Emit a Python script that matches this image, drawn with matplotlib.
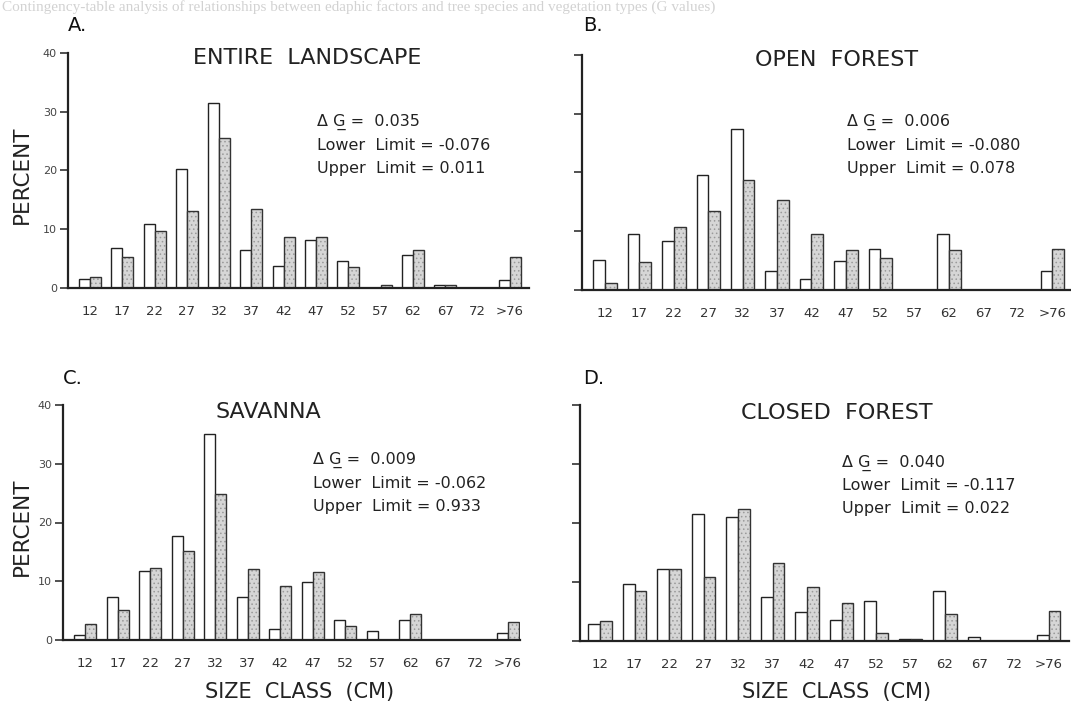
import numpy as np
import matplotlib.pyplot as plt

W, H = 1071, 705

size_labels = ["12", "17", "22", "27", "32", "37", "42", "47", "52", "57", "62", "67", "72", ">76"]

# white bars / stippled bars, percent per size class
entire_white = [1.5, 6.8, 10.9, 20.2, 31.5, 6.4, 3.8, 8.1, 4.6, 0.0, 5.6, 0.45, 0.0, 1.4]
entire_gray = [1.9, 5.3, 9.7, 13.1, 25.5, 13.5, 8.6, 8.75, 3.5, 0.45, 6.5, 0.45, 0.0, 5.2]
open_white = [5.1, 9.5, 8.4, 19.6, 27.4, 3.2, 1.9, 5.0, 6.9, 0.0, 9.5, 0.0, 0.0, 3.2]
open_gray = [1.2, 4.8, 10.7, 13.4, 18.75, 15.3, 9.5, 6.8, 5.5, 0.0, 6.8, 0.0, 0.0, 7.0]
savanna_white = [0.85, 7.3, 11.8, 17.7, 35.1, 7.4, 1.8, 9.8, 3.4, 1.5, 3.4, 0.0, 0.0, 1.25]
savanna_gray = [2.7, 5.1, 12.2, 15.2, 24.9, 12.1, 9.2, 11.6, 2.4, 0.0, 4.5, 0.0, 0.0, 3.1]
closed_white = [2.8, 9.6, 12.2, 21.6, 21.1, 7.5, 4.9, 3.5, 6.8, 0.3, 8.5, 0.7, 0.0, 1.0]
closed_gray = [3.4, 8.4, 12.2, 10.9, 22.4, 13.2, 9.2, 6.5, 1.4, 0.3, 4.5, 0.0, 0.0, 5.1]

panels = [
    # letter, title, white, gray, stats, pixel box (left, baseline, top, right), xlim left, px per class, y labels
    ("A.", "ENTIRE  LANDSCAPE", entire_white, entire_gray, ("0.035", "-0.076", "0.011"),
     (68, 288, 53, 529), -0.68, 32.3, True),
    ("B.", "OPEN  FOREST", open_white, open_gray, ("0.006", "-0.080", "0.078"),
     (582, 290, 55, 1071), -0.67, 34.4, False),
    ("C.", "SAVANNA", savanna_white, savanna_gray, ("0.009", "-0.062", "0.933"),
     (63, 640, 405, 520), -0.68, 32.5, True),
    ("D.", "CLOSED  FOREST", closed_white, closed_gray, ("0.040", "-0.117", "0.022"),
     (580, 641, 405, 1069), -0.58, 34.5, False),
]

# where the text sits, in pixels from the top-left (letters: baseline)
letter_pos = [(68, 31), (583, 31), (63, 384), (583, 384)]
title_pos = [(307, 58), (837, 60), (268, 412), (837, 413)]
stats_pos = [(317, 122), (847, 122), (313, 460), (842, 463)]

plt.rcParams["font.family"] = ["DejaVu Sans"]
plt.rcParams["hatch.linewidth"] = 0.6
fig = plt.figure(figsize=(W / 100, H / 100), dpi=100)
fig.patch.set_facecolor("white")

# faint bleed-through line at the top of the scanned page
fig.text(2 / W, 1 - 7 / H,
         "Contingency-table analysis of relationships between edaphic factors and tree species and vegetation types (G values)",
         ha="left", va="center", fontsize=11, color="#d2d2d2", family="Liberation Serif", zorder=0)

x = np.arange(len(size_labels))
bw = 0.34

for i, (letter, title, white, gray, stats, box, x0, px_per_cat, ylab) in enumerate(panels):
    left, base, top, right = box
    ax = fig.add_axes([left / W, 1 - base / H, (right - left) / W, (base - top) / H])
    ax.bar(x - bw / 2, white, width=bw, facecolor="white", edgecolor="#222222", linewidth=1.0)
    # stippled fill, then the dark outline on top
    ax.bar(x + bw / 2, gray, width=bw, facecolor="#d6d6d6", edgecolor="#9a9a9a", hatch="....", linewidth=0)
    ax.bar(x + bw / 2, gray, width=bw, facecolor="none", edgecolor="#333333", linewidth=1.0)

    ax.set_xlim(x0, x0 + (right - left) / px_per_cat)
    ax.set_ylim(0, 40)

    for s in ("top", "right"):
        ax.spines[s].set_visible(False)
    for s in ("left", "bottom"):
        ax.spines[s].set_linewidth(1.6)
        ax.spines[s].set_color("#222222")

    ax.set_xticks(x)
    ax.set_xticklabels(size_labels, fontsize=9.5, color="#333333")
    ax.tick_params(axis="x", length=0, pad=12)
    ax.set_yticks([0, 10, 20, 30, 40])
    ax.tick_params(axis="y", length=6, width=1.2, color="#333333", labelsize=8, labelcolor="#444444", pad=2)
    if not ylab:
        ax.set_yticklabels([])
    ax.set_facecolor("none")

    lx, ly = letter_pos[i]
    fig.text(lx / W, 1 - ly / H, letter, fontsize=14, ha="left", va="baseline", color="#111111")
    tx, ty = title_pos[i]
    fig.text(tx / W, 1 - ty / H, title, fontsize=16, ha="center", va="center", color="#222222")
    sx, sy = stats_pos[i]
    dg, lo, up = stats
    fig.text(sx / W, 1 - sy / H, "\u0394 G\u0332 =  " + dg, fontsize=11.5, ha="left", va="center",
             color="#222222")
    fig.text(sx / W, 1 - (sy + 23) / H, "Lower  Limit = " + lo, fontsize=11.5, ha="left", va="center",
             color="#222222")
    fig.text(sx / W, 1 - (sy + 46) / H, "Upper  Limit = " + up, fontsize=11.5, ha="left", va="center",
             color="#222222")

for yy in (175, 527):
    fig.text(22 / W, 1 - yy / H, "PERCENT", rotation=90, fontsize=15.5, ha="center", va="center",
             color="#222222")
for xx in (300, 837):
    fig.text(xx / W, 1 - 692 / H, "SIZE  CLASS  (CM)", fontsize=15, ha="center", va="center",
             color="#222222")

fig.savefig("out.png", dpi=100)
